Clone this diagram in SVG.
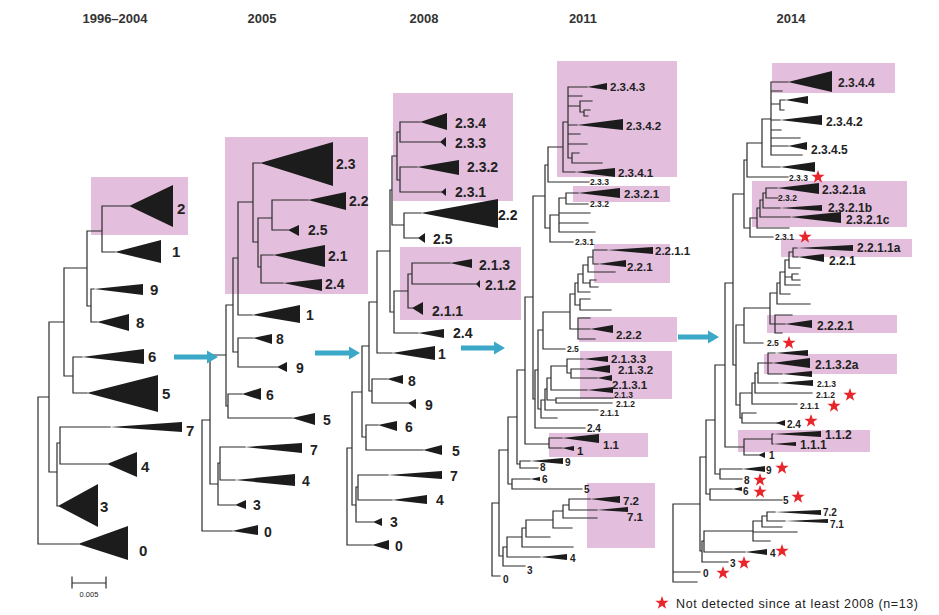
<svg xmlns="http://www.w3.org/2000/svg" width="939" height="615" viewBox="0 0 939 615">
<style>
.br{fill:none;stroke:#2b2b2b;stroke-width:1.2;stroke-linecap:square}
.tr{fill:#1c1c1c}
.pk{fill:#e4bfdd}
.ar{fill:#3aa8c6}
.st{fill:#e8252b}
text{font-family:"Liberation Sans",Arial,sans-serif;font-weight:bold;fill:#222}
.ti{font-size:13px;fill:#333;text-anchor:middle}
.x15{font-size:15px}
.x14{font-size:14px}
.x12{font-size:12px}
.x11{font-size:11.5px}
.x10{font-size:10px}
.x9{font-size:8.5px}
.lg{font-size:12.5px;font-weight:normal}
.sc{font-size:7.5px;font-weight:normal;text-anchor:middle}
</style>
<defs>
<path id="star" d="M0,-7 L1.65,-2.27 L6.66,-2.16 L2.66,0.87 L4.11,5.66 L0,2.8 L-4.11,5.66 L-2.66,0.87 L-6.66,-2.16 L-1.65,-2.27 Z"/>
</defs>
<rect width="939" height="615" fill="#ffffff"/>

<g id="titles">
<text class="ti" x="115" y="23">1996–2004</text>
<text class="ti" x="262" y="23">2005</text>
<text class="ti" x="424" y="23">2008</text>
<text class="ti" x="583" y="23">2011</text>
<text class="ti" x="791" y="23">2014</text>
</g>

<g id="highlights">
<rect class="pk" x="91" y="177" width="97" height="58"/>
<rect class="pk" x="225" y="137" width="143" height="157"/>
<rect class="pk" x="393" y="93" width="120" height="108"/>
<rect class="pk" x="400" y="247" width="121" height="73"/>
<rect class="pk" x="557" y="61" width="120" height="116"/>
<rect class="pk" x="573" y="186" width="97" height="16"/>
<rect class="pk" x="594" y="244" width="76" height="39"/>
<rect class="pk" x="579" y="317" width="98" height="25"/>
<rect class="pk" x="580" y="351" width="92" height="48"/>
<rect class="pk" x="549" y="433" width="99" height="24"/>
<rect class="pk" x="587" y="483" width="68" height="65"/>
<rect class="pk" x="772" y="63" width="123" height="30"/>
<rect class="pk" x="752" y="181" width="155" height="46"/>
<rect class="pk" x="781" y="239" width="131" height="18"/>
<rect class="pk" x="767" y="315" width="130" height="18"/>
<rect class="pk" x="764" y="354" width="133" height="20"/>
<rect class="pk" x="738" y="430" width="132" height="22"/>
</g>

<g id="connectors">
<path class="br" d="M102,206 H129 M102,206 V252 H115 M87,231 H102 M87,231 V306 H91 M91,289 V322 M91,289 H94 M91,322 H97 M64,268 H87 M64,268 V376 H73 M73,357 V393 M73,357 H82 M73,393 H87 M49,322 H64 M49,322 V472 H57 M57,443 V506 H58 M57,443 H60 M60,427 V464 H107 M60,427 H110 M38,397 H49 M38,397 V544 H78"/>
<path class="br" d="M253,163 H260 M253,163 V242 H258 M258,218 V267 H261 M258,218 H272 M272,200 V230 H288 M272,200 H308 M261,255 V283 H283 M261,255 H273 M238,202 H253 M238,202 V315 H252 M233,258 H238 M233,258 V352 H238 M238,338 V367 H277 M238,338 H253 M226,305 H233 M226,305 V406 H228 M228,394 V418 H292 M228,394 H242 M210,355 H226 M210,355 V484 H218 M218,463 V505 H235 M218,463 H220 M220,447 V480 H235 M220,447 H245 M202,420 H210 M202,420 V531 H232"/>
<path class="br" d="M400,122 V142 H440 M400,122 H420 M400,167 V192 H441 M400,167 H417 M397,132 V180 H400 M397,132 H400 M404,213 V238 H418 M404,213 H421 M392,156 H397 M392,156 V225 H404 M412,263 V284 H476 M412,263 H450 M408,274 H412 M408,274 V308 H412 M394,291 H408 M394,291 V333 H418 M390,190 H392 M390,190 V312 H394 M377,251 H390 M377,251 V353 H392 M372,379 V403 H408 M372,379 H387 M369,302 H377 M369,302 V391 H372 M366,425 V450 H423 M366,425 H378 M362,346 H369 M362,346 V437 H366 M358,475 V500 H392 M358,475 H388 M356,487 H358 M356,487 V522 H373 M352,392 H362 M352,392 V505 H356 M347,448 H352 M347,448 V545 H372"/>
<path class="br" d="M568,87 V158 M568,87 H587 M568,96 H582 M568,106 H580 M580,101 V112 M580,101 H592 M580,112 H584 M584,110 V116 M584,110 H590 M584,116 H588 M568,125 H577 M568,134 H580 M568,144 H587 M568,158 H572 M572,153 V163 H602 M572,153 H579 M563,122 H568 M563,122 V172 H575 M548,147 H563 M548,147 V182 H589 M566,193 V204 H588 M566,193 H578 M559,198 H566 M559,198 V232 H595 M559,213 H590 M559,223 H588 M550,215 H559 M550,215 V242 H573 M545,165 H548 M545,165 V228 H550 M533,196 H545 M533,196 V399 H535 M593,250 V264 H598 M593,250 H607 M588,257 H593 M588,257 V272 H615 M583,265 H588 M583,265 V283 H590 M590,280 V287 H598 M590,280 H596 M578,274 H583 M578,274 V292 H590 M575,283 H578 M575,283 V305 H580 M580,299 V310 H611 M580,299 H590 M578,318 V339 H595 M578,318 H590 M578,329 H590 M570,294 H575 M570,294 V329 H578 M543,312 H570 M543,312 V349 H565 M571,369 V378 H597 M571,369 H584 M567,359 V373 H571 M567,359 H583 M551,366 H567 M551,366 V390 H587 M556,398 V403 H612 M556,398 H613 M547,378 H551 M547,378 V400 H556 M545,389 H547 M545,389 V410 H598 M541,400 H545 M541,400 V418 H557 M538,330 H543 M538,330 V409 H541 M535,370 H538 M535,370 V428 H585 M525,297 H533 M525,297 V444 H549 M549,438 V448 H562 M549,438 H562 M520,461 V468 H538 M520,461 H530 M517,370 H525 M517,370 V464 H520 M512,479 V489 H582 M512,479 H530 M508,417 H517 M508,417 V484 H512 M569,499 V510 H597 M569,499 H590 M563,505 H569 M563,505 V518 H597 M553,511 H563 M553,511 V528 H572 M526,520 H553 M526,520 V537 H550 M522,528 H526 M522,528 V547 H573 M507,537 H522 M507,537 V557 H540 M503,547 H507 M503,547 V566 H525 M499,450 H508 M499,450 V556 H503 M492,503 H499 M492,503 V576 H500"/>
<path class="br" d="M771,82 V155 H802 M771,82 H788 M771,91 H782 M771,104 H780 M780,100 V110 H784 M780,100 H785 M771,120 H780 M771,130 H781 M771,138 H800 M771,146 H788 M762,119 H771 M762,119 V167 H780 M747,143 H762 M747,143 V177 H788 M766,188 V198 H778 M766,188 H777 M763,193 H766 M763,193 V208 H780 M760,200 H763 M760,200 V217 H790 M757,208 H760 M757,208 V228 H789 M750,218 H757 M750,218 V237 H773 M744,160 H747 M744,160 V228 H750 M733,194 H744 M733,194 V365 H736 M793,248 V257 H798 M793,248 H797 M789,252 H793 M789,252 V268 H800 M785,260 H789 M785,260 V285 H800 M785,277 H792 M792,274 V280 H800 M792,274 H798 M780,272 H785 M780,272 V294 H790 M777,283 H780 M777,283 V304 H810 M775,315 V333 H782 M775,315 H792 M775,324 H785 M770,293 H777 M770,293 V324 H775 M744,308 H770 M744,308 V343 H763 M768,353 V374 H782 M768,353 H775 M768,363 H772 M758,363 H768 M758,363 V383 H778 M755,373 H758 M755,373 V393 H812 M752,383 H755 M752,383 V404 H797 M742,413 V423 H778 M742,413 H756 M740,393 H752 M740,393 V418 H742 M736,325 H744 M736,325 V405 H740 M725,283 H733 M725,283 V447 H744 M772,434 V444 H773 M772,434 H773 M744,439 H772 M744,439 V455 H758 M720,469 V479 H742 M720,469 H742 M715,365 H725 M715,365 V474 H720 M710,489 V500 H782 M710,489 H732 M706,420 H715 M706,420 V494 H710 M767,512 V521 H785 M767,512 H775 M762,516 H767 M762,516 V527 H782 M753,521 H762 M753,521 V541 H770 M753,532 H797 M704,531 H753 M704,531 V552 H745 M702,541 H704 M702,541 V562 H728 M700,457 H706 M700,457 V551 H702 M673,504 H700 M673,504 V582 H697 M673,572 H700"/>
<path class="br" d="M72,577 V588 M72,583 H106 M106,577 V588"/>
</g>

<g id="arrows">
<path class="ar" d="M174,354.5 H207 V350.5 L218,357 L207,363.5 V359.5 H174 Z"/>
<path class="ar" d="M315,350.5 H349 V346.5 L360,353 L349,359.5 V355.5 H315 Z"/>
<path class="ar" d="M461,345.5 H494 V341.5 L505,348 L494,354.5 V350.5 H461 Z"/>
<path class="ar" d="M678,334.5 H708 V330.5 L719,337 L708,343.5 V339.5 H678 Z"/>
</g>

<g id="panel-1996-2004">
<g id="p1-2"><polygon class="tr" points="129,206 173,185 173,227"/><text class="x15" x="177" y="214">2</text></g>
<g id="p1-1"><polygon class="tr" points="115,252 161,240 161,263"/><text class="x15" x="172" y="257">1</text></g>
<g id="p1-9"><polygon class="tr" points="94,289 143,284 143,295"/><text class="x15" x="150" y="295">9</text></g>
<g id="p1-8"><polygon class="tr" points="97,322 129,314 129,331"/><text class="x15" x="136" y="328">8</text></g>
<g id="p1-6"><polygon class="tr" points="82,357 144,349 144,364"/><text class="x15" x="148" y="362">6</text></g>
<g id="p1-5"><polygon class="tr" points="87,393 158,375 158,412"/><text class="x15" x="162" y="399">5</text></g>
<g id="p1-7"><polygon class="tr" points="110,427 182,422 182,432"/><text class="x15" x="186" y="436">7</text></g>
<g id="p1-4"><polygon class="tr" points="107,464 137,452 137,477"/><text class="x15" x="141" y="472">4</text></g>
<g id="p1-3"><polygon class="tr" points="58,506 98,484 98,527"/><text class="x15" x="100" y="512">3</text></g>
<g id="p1-0"><polygon class="tr" points="78,544 128,526 128,560"/><text class="x15" x="139" y="556">0</text></g>
<text class="sc" x="89" y="597">0.005</text>
</g>

<g id="panel-2005">
<g id="p2-2.3"><polygon class="tr" points="260,163 333,142 333,186"/><text class="x14" x="336" y="169">2.3</text></g>
<g id="p2-2.2"><polygon class="tr" points="308,200 346,192 346,210"/><text class="x14" x="349" y="206">2.2</text></g>
<g id="p2-2.5"><polygon class="tr" points="288,230 299,225 299,236"/><text class="x14" x="308" y="235">2.5</text></g>
<g id="p2-2.1"><polygon class="tr" points="273,255 325,245 325,267"/><text class="x14" x="328" y="261">2.1</text></g>
<g id="p2-2.4"><polygon class="tr" points="283,283 322,279 322,291"/><text class="x14" x="325" y="289">2.4</text></g>
<g id="p2-1"><polygon class="tr" points="252,315 300,305 300,323"/><text class="x14" x="306" y="320">1</text></g>
<g id="p2-8"><polygon class="tr" points="253,338 272,334 272,344"/><text class="x14" x="276" y="344">8</text></g>
<g id="p2-9"><polygon class="tr" points="277,367 287,362 287,372"/><text class="x14" x="296" y="373">9</text></g>
<g id="p2-6"><polygon class="tr" points="242,394 261,388 261,400"/><text class="x14" x="266" y="400">6</text></g>
<g id="p2-5"><polygon class="tr" points="292,418 315,413 315,425"/><text class="x14" x="323" y="425">5</text></g>
<g id="p2-7"><polygon class="tr" points="245,447 302,443 302,453"/><text class="x14" x="310" y="455">7</text></g>
<g id="p2-4"><polygon class="tr" points="235,480 295,474 295,486"/><text class="x14" x="302" y="486">4</text></g>
<g id="p2-3"><polygon class="tr" points="235,505 246,500 246,509"/><text class="x14" x="253" y="510">3</text></g>
<g id="p2-0"><polygon class="tr" points="232,531 258,525 258,535"/><text class="x14" x="264" y="537">0</text></g>
</g>

<g id="panel-2008">
<g id="p3-2.3.4"><polygon class="tr" points="420,122 447,113 447,130"/><text class="x14" x="455" y="128">2.3.4</text></g>
<g id="p3-2.3.3"><polygon class="tr" points="440,142 446,137 446,147"/><text class="x14" x="455" y="148">2.3.3</text></g>
<g id="p3-2.3.2"><polygon class="tr" points="417,167 459,160 459,175"/><text class="x14" x="467" y="172">2.3.2</text></g>
<g id="p3-2.3.1"><polygon class="tr" points="441,192 446,188 446,196"/><text class="x14" x="455" y="197">2.3.1</text></g>
<g id="p3-2.2"><polygon class="tr" points="421,213 498,199 498,228"/><text class="x14" x="498" y="220">2.2</text></g>
<g id="p3-2.5"><polygon class="tr" points="418,238 425,233 425,243"/><text class="x14" x="433" y="244">2.5</text></g>
<g id="p3-2.1.3"><polygon class="tr" points="450,263 472,259 472,268"/><text class="x14" x="479" y="270">2.1.3</text></g>
<g id="p3-2.1.2"><polygon class="tr" points="476,284 480,280 480,288"/><text class="x14" x="485" y="290">2.1.2</text></g>
<g id="p3-2.1.1"><polygon class="tr" points="412,308 423,302 423,315"/><text class="x14" x="432" y="316">2.1.1</text></g>
<g id="p3-2.4"><polygon class="tr" points="418,333 444,329 444,338"/><text class="x14" x="453" y="338">2.4</text></g>
<g id="p3-1"><polygon class="tr" points="392,353 435,346 435,360"/><text class="x14" x="438" y="359">1</text></g>
<g id="p3-8"><polygon class="tr" points="387,379 403,375 403,384"/><text class="x14" x="408" y="386">8</text></g>
<g id="p3-9"><polygon class="tr" points="408,403 416,399 416,409"/><text class="x14" x="425" y="410">9</text></g>
<g id="p3-6"><polygon class="tr" points="378,425 397,421 397,431"/><text class="x14" x="405" y="432">6</text></g>
<g id="p3-5"><polygon class="tr" points="423,450 442,445 442,455"/><text class="x14" x="452" y="456">5</text></g>
<g id="p3-7"><polygon class="tr" points="388,475 442,471 442,479"/><text class="x14" x="450" y="481">7</text></g>
<g id="p3-4"><polygon class="tr" points="392,500 427,495 427,504"/><text class="x14" x="436" y="505">4</text></g>
<g id="p3-3"><polygon class="tr" points="373,522 382,518 382,526"/><text class="x14" x="390" y="527">3</text></g>
<g id="p3-0"><polygon class="tr" points="372,545 389,540 389,550"/><text class="x14" x="395" y="551">0</text></g>
</g>

<g id="panel-2011">
<g id="p4-2.3.4.3"><polygon class="tr" points="587,87 607,83 607,90"/><text class="x11" x="610" y="91">2.3.4.3</text></g>
<g id="p4-2.3.4.2"><polygon class="tr" points="577,125 623,119 623,130"/><text class="x11" x="626" y="130">2.3.4.2</text></g>
<g id="p4-2.3.4.1"><polygon class="tr" points="575,172 615,168 615,177"/><text class="x11" x="618" y="177">2.3.4.1</text></g>
<g id="p4-2.3.3"><text class="x9" x="590" y="185">2.3.3</text></g>
<g id="p4-2.3.2.1"><polygon class="tr" points="578,193 620,188 620,198"/><text class="x11" x="624" y="198">2.3.2.1</text></g>
<g id="p4-2.3.2"><text class="x9" x="590" y="207">2.3.2</text></g>
<g id="p4-2.3.1"><text class="x9" x="575" y="245">2.3.1</text></g>
<g id="p4-2.2.1.1"><polygon class="tr" points="607,250 653,247 653,254"/><text class="x11" x="655" y="255">2.2.1.1</text></g>
<g id="p4-2.2.1"><polygon class="tr" points="598,264 626,260 626,267"/><text class="x11" x="627" y="271">2.2.1</text></g>
<g id="p4-2.2.2"><polygon class="tr" points="590,329 613,325 613,333"/><text class="x11" x="616" y="339">2.2.2</text></g>
<g id="p4-2.5"><text class="x9" x="567" y="352">2.5</text></g>
<g id="p4-2.1.3.3"><polygon class="tr" points="583,359 608,356 608,362"/><text class="x11" x="611" y="363">2.1.3.3</text></g>
<g id="p4-2.1.3.2"><polygon class="tr" points="584,369 610,365 610,373"/><polygon class="tr" points="597,378 612,375 612,381"/><text class="x11" x="618" y="374">2.1.3.2</text></g>
<g id="p4-2.1.3.1"><polygon class="tr" points="587,390 613,387 613,393"/><text class="x11" x="612" y="389">2.1.3.1</text></g>
<g id="p4-2.1.3"><text class="x9" x="614" y="398">2.1.3</text></g>
<g id="p4-2.1.2"><text class="x9" x="616" y="407">2.1.2</text></g>
<g id="p4-2.1.1"><text class="x9" x="600" y="416">2.1.1</text></g>
<g id="p4-2.4"><text class="x10" x="587" y="432">2.4</text></g>
<g id="p4-1.1"><polygon class="tr" points="562,438 599,434 599,443"/><text class="x11" x="603" y="449">1.1</text></g>
<g id="p4-1"><polygon class="tr" points="562,448 574,446 574,451"/><text class="x11" x="577" y="455">1</text></g>
<g id="p4-9"><polygon class="tr" points="530,461 563,458 563,464"/><text class="x10" x="565" y="466">9</text></g>
<g id="p4-8"><text class="x10" x="540" y="471">8</text></g>
<g id="p4-6"><polygon class="tr" points="530,479 540,477 540,481"/><text class="x10" x="542" y="483">6</text></g>
<g id="p4-5"><text class="x10" x="584" y="493">5</text></g>
<g id="p4-7.2"><polygon class="tr" points="590,499 620,496 620,503"/><text class="x11" x="623" y="505">7.2</text></g>
<g id="p4-7.1"><polygon class="tr" points="597,510 628,507 628,512"/><text class="x11" x="627" y="521">7.1</text></g>
<g id="p4-4"><polygon class="tr" points="540,557 567,554 567,560"/><text class="x10" x="570" y="562">4</text></g>
<g id="p4-3"><text class="x10" x="527" y="574">3</text></g>
<g id="p4-0"><text class="x10" x="503" y="583">0</text></g>
</g>

<g id="panel-2014">
<g id="p5-2.3.4.4"><polygon class="tr" points="788,82 832,71 832,92"/><text class="x12" x="838" y="87">2.3.4.4</text></g>
<g id="p5-2.3.4.x"><polygon class="tr" points="785,100 808,96 808,104"/></g>
<g id="p5-2.3.4.2"><polygon class="tr" points="780,120 822,115 822,125"/><text class="x12" x="826" y="126">2.3.4.2</text></g>
<g id="p5-2.3.4.5"><polygon class="tr" points="788,146 807,142 807,150"/><text class="x12" x="811" y="154">2.3.4.5</text></g>
<g id="p5-2.3.4.y"><polygon class="tr" points="780,167 815,162 815,172"/></g>
<g id="p5-2.3.3"><text class="x9" x="789" y="181">2.3.3</text><use href="#star" class="st" x="818" y="177"/></g>
<g id="p5-2.3.2.1a"><polygon class="tr" points="777,188 819,183 819,194"/><text class="x12" x="822" y="194">2.3.2.1a</text></g>
<g id="p5-2.3.2"><text class="x9" x="778" y="201">2.3.2</text></g>
<g id="p5-2.3.2.1b"><polygon class="tr" points="780,208 822,205 822,211"/><text class="x12" x="828" y="212">2.3.2.1b</text></g>
<g id="p5-2.3.2.1c"><polygon class="tr" points="790,217 841,212 841,223"/><text class="x12" x="846" y="224">2.3.2.1c</text></g>
<g id="p5-2.3.1"><text class="x9" x="775" y="240">2.3.1</text><use href="#star" class="st" x="805" y="237"/></g>
<g id="p5-2.2.1.1a"><polygon class="tr" points="797,248 853,245 853,251"/><text class="x12" x="857" y="252">2.2.1.1a</text></g>
<g id="p5-2.2.1"><polygon class="tr" points="798,257 824,254 824,262"/><text class="x12" x="829" y="265">2.2.1</text></g>
<g id="p5-2.2.2.1"><polygon class="tr" points="785,324 812,320 812,328"/><text class="x12" x="817" y="330">2.2.2.1</text></g>
<g id="p5-2.5"><text class="x9" x="767" y="346">2.5</text><use href="#star" class="st" x="789" y="343"/></g>
<g id="p5-2.1.3.2a"><polygon class="tr" points="775,353 808,350 808,356"/><polygon class="tr" points="772,363 810,358 810,368"/><polygon class="tr" points="782,374 812,371 812,377"/><text class="x12" x="815" y="369">2.1.3.2a</text></g>
<g id="p5-2.1.3"><polygon class="tr" points="778,383 813,380 813,386"/><text class="x9" x="817" y="387">2.1.3</text></g>
<g id="p5-2.1.2"><text class="x9" x="816" y="398">2.1.2</text><use href="#star" class="st" x="850" y="395"/></g>
<g id="p5-2.1.1"><text class="x9" x="800" y="409">2.1.1</text><use href="#star" class="st" x="834" y="406"/></g>
<g id="p5-2.4"><polygon class="tr" points="776,423 785,420 785,426"/><text class="x10" x="787" y="428">2.4</text><use href="#star" class="st" x="811" y="421"/></g>
<g id="p5-1.1.2"><polygon class="tr" points="773,434 821,431 821,437"/><text class="x12" x="825" y="439">1.1.2</text></g>
<g id="p5-1.1.1"><polygon class="tr" points="773,444 796,442 796,446"/><text class="x12" x="800" y="449">1.1.1</text></g>
<g id="p5-1"><polygon class="tr" points="758,455 765,452 765,458"/><text class="x10" x="769" y="459">1</text></g>
<g id="p5-9"><polygon class="tr" points="742,469 765,466 765,472"/><text class="x10" x="766" y="474">9</text><use href="#star" class="st" x="782" y="468"/></g>
<g id="p5-8"><text class="x10" x="744" y="484">8</text><use href="#star" class="st" x="760" y="480"/></g>
<g id="p5-6"><polygon class="tr" points="732,489 742,487 742,491"/><text class="x10" x="743" y="495">6</text><use href="#star" class="st" x="760" y="492"/></g>
<g id="p5-5"><text class="x10" x="783" y="504">5</text><use href="#star" class="st" x="798" y="497"/></g>
<g id="p5-7.2"><polygon class="tr" points="775,512 821,510 821,515"/><text class="x10" x="823" y="516">7.2</text></g>
<g id="p5-7.1"><polygon class="tr" points="785,521 828,519 828,523"/><text class="x10" x="830" y="528">7.1</text></g>
<g id="p5-4"><polygon class="tr" points="745,552 767,549 767,555"/><text class="x10" x="770" y="557">4</text><use href="#star" class="st" x="782" y="551"/></g>
<g id="p5-3"><text class="x10" x="730" y="567">3</text><use href="#star" class="st" x="744" y="563"/></g>
<g id="p5-0"><text class="x10" x="703" y="577">0</text><use href="#star" class="st" x="723" y="573"/></g>
</g>

<g id="legend">
<use href="#star" class="st" x="662" y="603"/>
<text class="lg" x="676" y="608" textLength="242">Not detected since at least 2008 (n=13)</text>
</g>
</svg>
